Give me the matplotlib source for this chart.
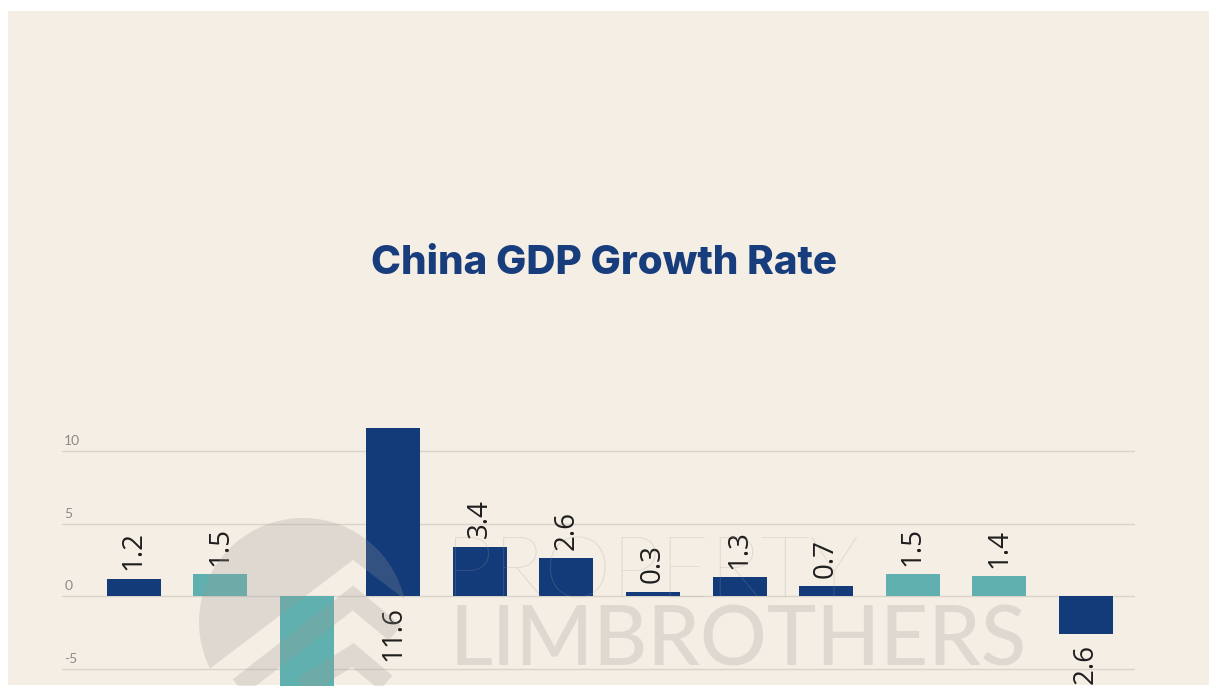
import matplotlib.pyplot as plt
import matplotlib.patches as mpatches
import numpy as np

# quarterly GDP growth, q/q %
values = [1.2, 1.5, -10.3, 11.6, 3.4, 2.6, 0.3, 1.3, 0.7, 1.5, 1.4, -2.6]
highlight = [1, 2, 9, 10]
yticks = [-5, 0, 5, 10]

navy = '#133b79'
teal = '#5fb0ae'
beige = '#f5eee4'

W, H = 1209, 686
fig = plt.figure(figsize=(W / 100, H / 100), dpi=100)
fig.patch.set_facecolor('white')
fig.patches.append(mpatches.Rectangle((8 / W, 1 / H), 1, (H - 12) / H,
                                      transform=fig.transFigure,
                                      facecolor=beige, edgecolor='none', zorder=-5))

fig.text(604 / W, 1 - 264 / H, 'China GDP Growth Rate', ha='center', va='center',
         fontsize=29, fontweight='heavy', color='#173d7c', family='Inter')

ax = fig.add_axes([62 / W, 0, (1135 - 62) / W, (H - 422) / H])
ax.set_facecolor('none')
x = np.arange(len(values))
colors = [teal if i in highlight else navy for i in x]
ax.bar(x, values, width=0.624, color=colors, zorder=2)
ax.set_xlim(-0.83, 11.57)
ax.set_ylim(-6.19, 12)

ax.set_yticks(yticks)
ax.yaxis.grid(True, color='#d9d3ca', lw=1)
ax.set_axisbelow(True)
ax.tick_params(left=False, bottom=False, labelleft=False, labelbottom=False)
for s in ax.spines.values():
    s.set_visible(False)

for t in yticks:
    ax.text(0.002, t + 0.28, str(t), transform=ax.get_yaxis_transform(),
            ha='left', va='bottom', fontsize=10, color='#8a8a8a', family='Lato')

lab = dict(rotation=90, ha='center', fontsize=20, color='#1e1e1e',
           family='Open Sans', textcoords='offset points')
for i, v in enumerate(values):
    if v > 10:
        # no headroom above, so the label goes under the baseline
        ax.annotate(f'{v}', (i, 0), xytext=(0, -7), va='top', **lab)
    elif v >= 0:
        ax.annotate(f'{v}', (i, v), xytext=(0, 6), va='bottom', **lab)
    else:
        ax.annotate(f'{v}', (i, v), xytext=(0, -7), va='top', **lab)

# watermark layer on top (pixel coords, y down)
ov = fig.add_axes([0, 0, 1, 1], zorder=5)
ov.set_xlim(0, W)
ov.set_ylim(H, 0)
ov.axis('off')
ov.patch.set_alpha(0)
wm = '#9a9a9a'
wa = 0.25

# round logo with a chevron notch cut out of its lower right
cx, cy, r = 303, 622, 104
th = np.radians(np.linspace(12.8, 206.6, 80))
pts = np.column_stack([cx + r * np.cos(th), cy - r * np.sin(th)])
pts = np.vstack([pts, [[353, 560]]])
ov.add_patch(mpatches.Polygon(pts, closed=True, facecolor=wm, alpha=wa,
                              edgecolor='none'))
ov.plot([222, 353, 395], [700, 598, 633], color=wm, alpha=wa, lw=14,
        solid_joinstyle='miter', solid_capstyle='butt')
ov.plot([282, 353, 386], [700, 655, 683], color=wm, alpha=wa, lw=14,
        solid_joinstyle='miter', solid_capstyle='butt')

ov.text(652, 597, 'PROPERTY', ha='center', va='baseline', fontsize=62,
        fontweight='light', color=wm, alpha=wa, family='Lato')
ov.text(738, 665, 'LIMBROTHERS', ha='center', va='baseline', fontsize=60,
        fontweight='medium', color=wm, alpha=wa, family='Lato')

fig.savefig('out.png', dpi=100, facecolor=fig.get_facecolor())
